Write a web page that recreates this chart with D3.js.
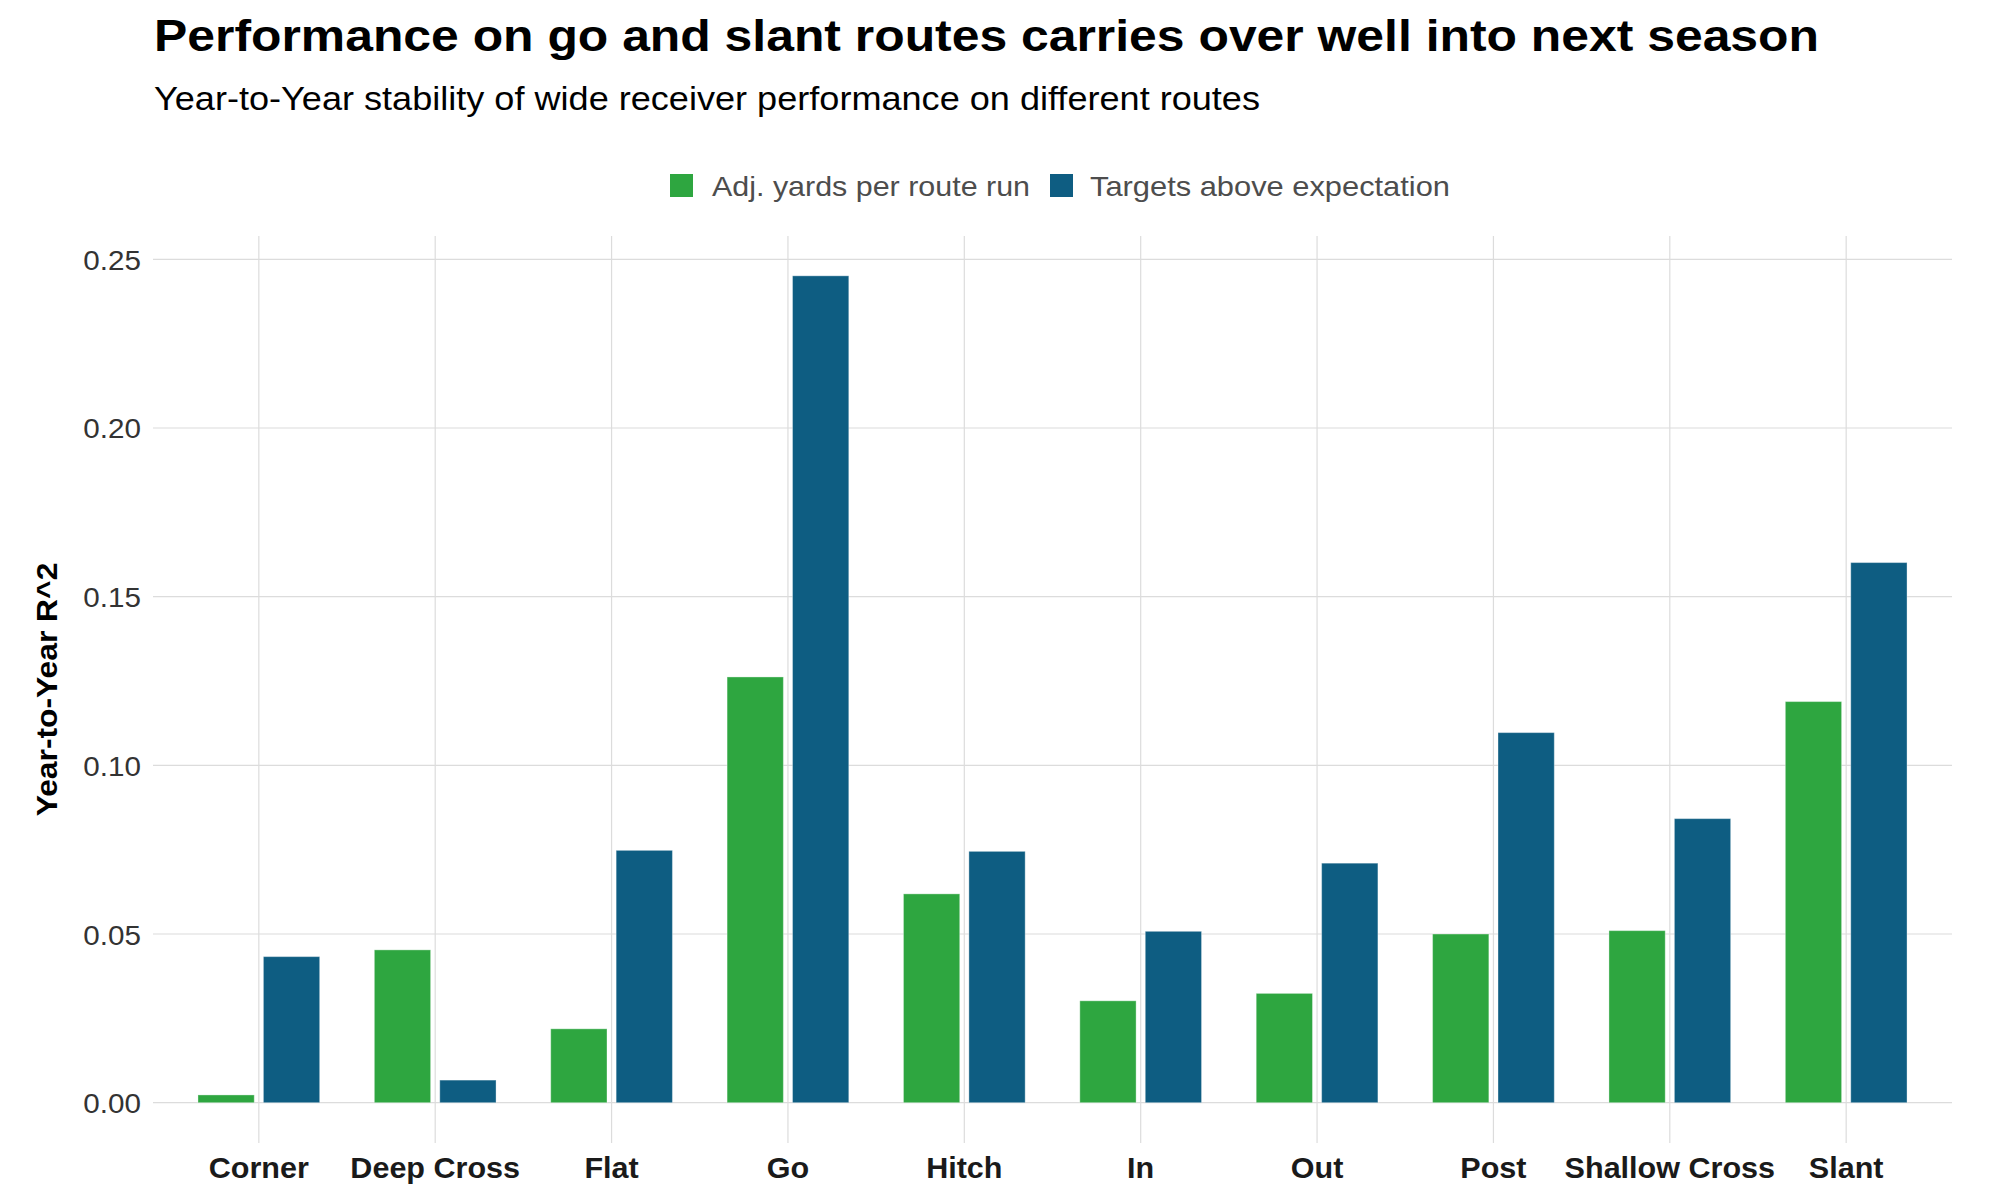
<!DOCTYPE html>
<html>
<head>
<meta charset="utf-8">
<script src="https://cdn.jsdelivr.net/npm/d3@7"></script>
<style>
  html, body { margin: 0; padding: 0; background: #ffffff; }
  svg { display: block; font-family: "Liberation Sans", Arial, sans-serif; }
</style>
</head>
<body>
<svg id="chart" width="2000" height="1200"></svg>
<script>
const categories = ["Corner", "Deep Cross", "Flat", "Go", "Hitch", "In", "Out", "Post", "Shallow Cross", "Slant"];
const seriesNames = ["Adj. yards per route run", "Targets above expectation"];
const adjYardsPerRouteRun = [0.0023, 0.0453, 0.0219, 0.1262, 0.0619, 0.0302, 0.0324, 0.0500, 0.0510, 0.1189];
const targetsAboveExpectation = [0.0433, 0.0067, 0.0748, 0.2451, 0.0745, 0.0508, 0.0710, 0.1097, 0.0842, 0.1601];
const yTicks = [0, 0.05, 0.10, 0.15, 0.20, 0.25];
const seriesColors = ["#2ea640", "#0e5d82"];

const svg = d3.select("#chart");

// stretch a text element horizontally by a factor (keeps glyph height)
function stretch(sel, factor) {
  sel.each(function () {
    const len = this.getComputedTextLength();
    d3.select(this)
      .attr("textLength", len * factor)
      .attr("lengthAdjust", "spacingAndGlyphs");
  });
}

const panel = { left: 153, right: 1952, top: 236, bottom: 1143 };

const x = d3.scaleBand()
  .domain(categories)
  .range([panel.left, panel.right])
  .paddingInner(0)
  .paddingOuter(0.1);

const groupWidth = x.step() * 0.69;
const xSub = d3.scaleBand()
  .domain(seriesNames)
  .range([-groupWidth / 2, groupWidth / 2])
  .paddingInner(0.14);

const y = d3.scaleLinear()
  .domain([0, 0.25])
  .range([1102.7, 259.3]);

const center = c => x(c) + x.bandwidth() / 2;

// Gridlines
const grid = svg.append("g").attr("class", "grid");
grid.selectAll("line.h")
  .data(yTicks)
  .join("line")
  .attr("class", "h")
  .attr("x1", panel.left).attr("x2", panel.right)
  .attr("y1", d => y(d)).attr("y2", d => y(d))
  .attr("stroke", "#dcdcdc").attr("stroke-width", 1.2);
grid.selectAll("line.v")
  .data(categories)
  .join("line")
  .attr("class", "v")
  .attr("x1", d => center(d)).attr("x2", d => center(d))
  .attr("y1", panel.top).attr("y2", panel.bottom)
  .attr("stroke", "#dcdcdc").attr("stroke-width", 1.2);

// Bars
const rows = categories.map((c, i) => ({
  cat: c,
  vals: [
    { s: seriesNames[0], v: adjYardsPerRouteRun[i] },
    { s: seriesNames[1], v: targetsAboveExpectation[i] }
  ]
}));

const groups = svg.append("g").selectAll("g")
  .data(rows)
  .join("g")
  .attr("transform", d => `translate(${center(d.cat)},0)`);

groups.selectAll("rect")
  .data(d => d.vals)
  .join("rect")
  .attr("x", d => xSub(d.s))
  .attr("width", xSub.bandwidth())
  .attr("y", d => y(d.v))
  .attr("height", d => y(0) - y(d.v))
  .attr("fill", (d, i) => seriesColors[i])
  .attr("stroke", "#ffffff")
  .attr("stroke-opacity", 0.35)
  .attr("stroke-width", 1);

// Y axis labels
const yAxis = d3.axisLeft(y).tickValues(yTicks).tickFormat(d3.format(".2f")).tickSize(0).tickPadding(0);
const yg = svg.append("g")
  .attr("transform", `translate(141,0)`)
  .call(yAxis);
yg.select(".domain").remove();
yg.selectAll("text")
  .attr("font-family", "Liberation Sans, Arial, sans-serif")
  .attr("font-size", 28.5)
  .attr("fill", "#333333")
  .attr("dy", "0.35em")
  .call(stretch, 1.04);

// X axis labels
const xAxis = d3.axisBottom(x).tickSize(0).tickPadding(0);
const xg = svg.append("g")
  .attr("transform", `translate(0,1178)`)
  .call(xAxis);
xg.select(".domain").remove();
xg.selectAll("text")
  .attr("font-family", "Liberation Sans, Arial, sans-serif")
  .attr("font-size", 29.5)
  .attr("font-weight", "bold")
  .attr("fill", "#1a1a1a")
  .attr("dy", 0)
  .attr("y", 0)
  .call(stretch, 1.035);

// Y axis title
svg.append("text")
  .attr("transform", `translate(57,${(panel.top + panel.bottom) / 2}) rotate(-90)`)
  .attr("text-anchor", "middle")
  .attr("font-size", 30)
  .attr("font-weight", "bold")
  .attr("fill", "#000")
  .text("Year-to-Year R^2")
  .call(stretch, 1.06);

// Title & subtitle
svg.append("text")
  .attr("x", 154).attr("y", 51)
  .attr("font-size", 44)
  .attr("font-weight", "bold")
  .attr("fill", "#000")
  .text("Performance on go and slant routes carries over well into next season")
  .attr("textLength", 1665)
  .attr("lengthAdjust", "spacingAndGlyphs");

svg.append("text")
  .attr("x", 154).attr("y", 110)
  .attr("font-size", 33)
  .attr("fill", "#000")
  .text("Year-to-Year stability of wide receiver performance on different routes")
  .attr("textLength", 1106)
  .attr("lengthAdjust", "spacingAndGlyphs");

// Legend
const legendItems = [
  { name: seriesNames[0], color: seriesColors[0], sx: 670, tx: 712, len: 318 },
  { name: seriesNames[1], color: seriesColors[1], sx: 1050, tx: 1090, len: 360 }
];
const lg = svg.append("g");
lg.selectAll("rect")
  .data(legendItems)
  .join("rect")
  .attr("x", d => d.sx).attr("y", 174)
  .attr("width", 23).attr("height", 23)
  .attr("fill", d => d.color);
lg.selectAll("text")
  .data(legendItems)
  .join("text")
  .attr("x", d => d.tx).attr("y", 196)
  .attr("font-size", 28)
  .attr("fill", "#4d4d4d")
  .text(d => d.name)
  .attr("textLength", d => d.len)
  .attr("lengthAdjust", "spacingAndGlyphs");
</script>
</body>
</html>
